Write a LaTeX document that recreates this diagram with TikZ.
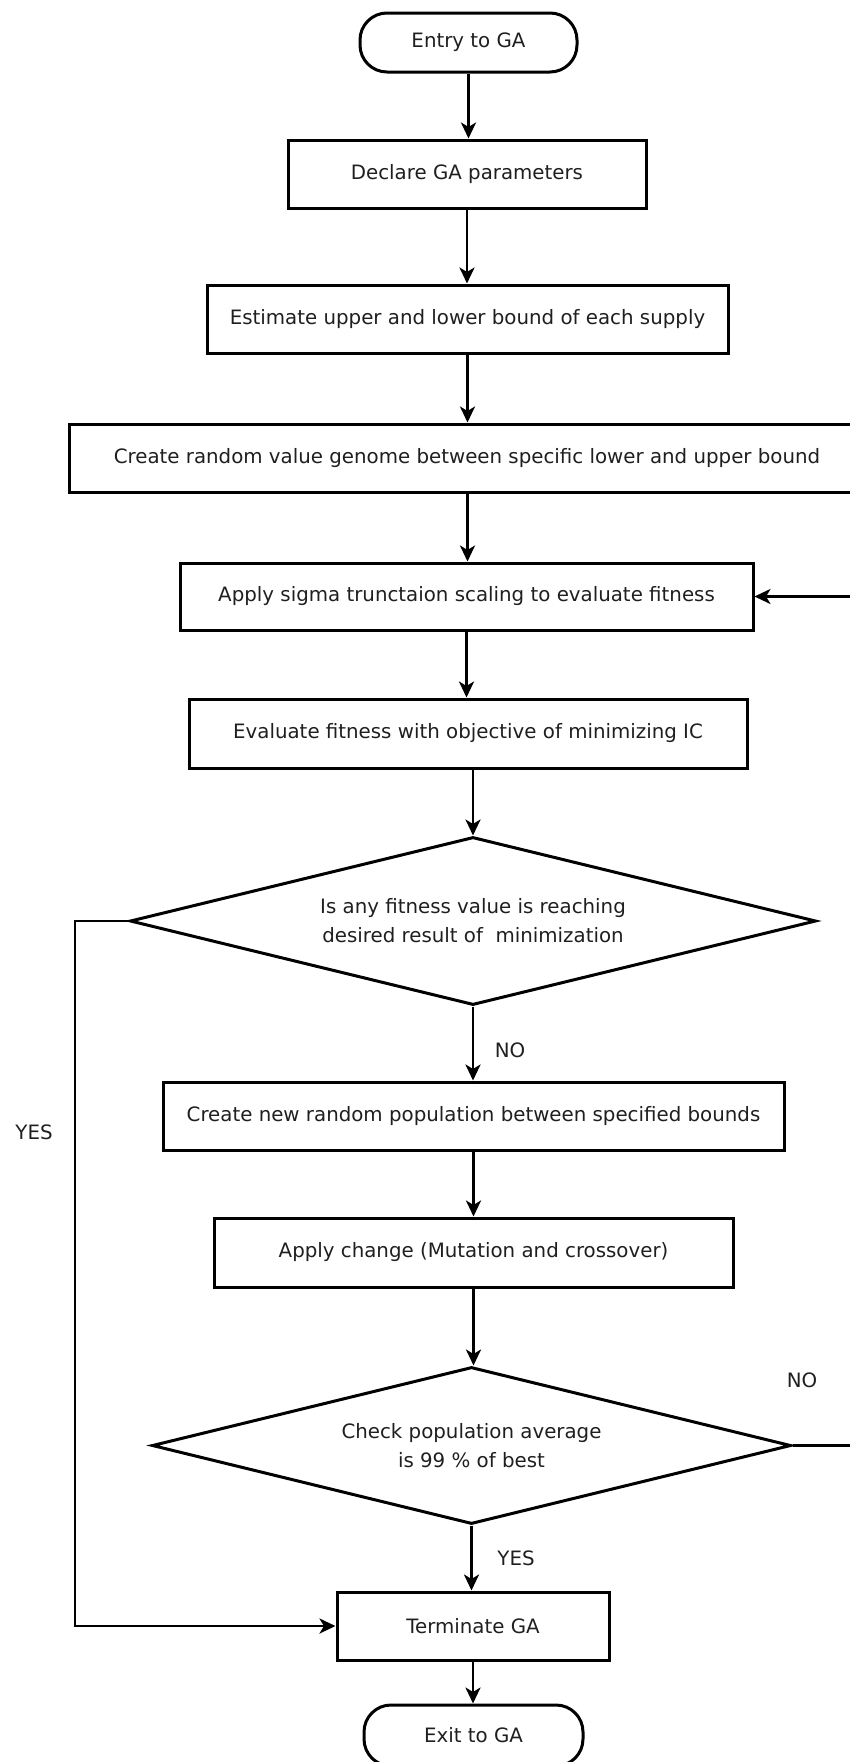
\documentclass[tikz,border=0pt]{standalone}
\usepackage{fontspec}
\setmainfont{DejaVu Sans}
\usetikzlibrary{shapes.geometric,arrows.meta}

\tikzset{
  base/.style={draw=black, line width=3pt, inner sep=0pt, align=center,
    text=black!88, font=\fontsize{19.8}{29}\selectfont},
  procbox/.style={base, rectangle},
  termbox/.style={base, rectangle, rounded corners=27pt},
  decbox/.style={base, diamond, aspect=4},
  flow/.style={line width=2.8pt, -{Stealth[length=16pt,width=15pt,inset=4.5pt]}},
  tag/.style={text=black!88, font=\fontsize{19.8}{24}\selectfont, inner sep=0pt}
}

\begin{document}
\begin{tikzpicture}[x=1pt, y=-1pt]
\useasboundingbox (0,0) rectangle (850,1762);

% process chain
\node[termbox, minimum width=217pt, minimum height=59pt] (entry) at (468.5,42.5) {Entry to GA};
\node[procbox, minimum width=358pt, minimum height=68pt] (declare) at (467,174) {Declare GA parameters};
\node[procbox, minimum width=521pt, minimum height=68pt] (estimate) at (467.5,319) {Estimate upper and lower bound of each supply};
\node[procbox, minimum width=796pt, minimum height=68pt] (genome) at (467,458) {Create random value genome between specific lower and upper bound};
\node[procbox, minimum width=573pt, minimum height=67pt] (sigma) at (466.5,596.5) {Apply sigma trunctaion scaling to evaluate fitness};
\node[procbox, minimum width=558pt, minimum height=69pt] (evalf) at (468,733.5) {Evaluate fitness with objective of minimizing IC};
\node[decbox, minimum width=686pt, minimum height=168pt] (reach) at (473,921) {Is any fitness value is reaching\\desired result of \ minimization};
\node[procbox, minimum width=621pt, minimum height=68pt] (newpop) at (473.5,1116) {Create new random population between specified bounds};
\node[procbox, minimum width=519pt, minimum height=69pt] (change) at (473.5,1252.5) {Apply change (Mutation and crossover)};
\node[decbox, minimum width=639pt, minimum height=157pt] (avg) at (471.5,1445.5) {Check population average\\is 99 \% of best};
\node[procbox, minimum width=272pt, minimum height=68pt] (term) at (473,1626) {Terminate GA};
\node[termbox, minimum width=219pt, minimum height=61pt] (exitga) at (473.5,1735.5) {Exit to GA};

% branch labels
\node[tag] (noa) at (510,1050) {NO};
\node[tag] (yesa) at (34,1132) {YES};
\node[tag] (nob) at (802,1380) {NO};
\node[tag] (yesb) at (516,1558) {YES};

% routing columns for the two loops
\coordinate (lx) at (75,0);
\coordinate (rx) at (864,0);

% straight flow
\draw[flow] (entry.south) -- (entry.south |- declare.north);
\draw[flow] (declare.south) -- (declare.south |- estimate.north);
\draw[flow] (estimate.south) -- (estimate.south |- genome.north);
\draw[flow] (estimate.south |- genome.south) -- (estimate.south |- sigma.north);
\draw[flow] (sigma.south) -- (sigma.south |- evalf.north);
\draw[flow] (reach.north |- evalf.south) -- (reach.north);
\draw[flow] (reach.south) -- (reach.south |- newpop.north);
\draw[flow] (newpop.south) -- (newpop.south |- change.north);
\draw[flow] (change.south) -- (change.south |- avg.north);
\draw[flow] (avg.south) -- (avg.south |- term.north);
\draw[flow] (term.south) -- (term.south |- exitga.north);

% loops
\draw[flow] (reach.west) -- (reach.west -| lx) |- (term.west);
\draw[flow] (avg.east) -- (avg.east -| rx) |- (sigma.east);
\end{tikzpicture}
\end{document}
